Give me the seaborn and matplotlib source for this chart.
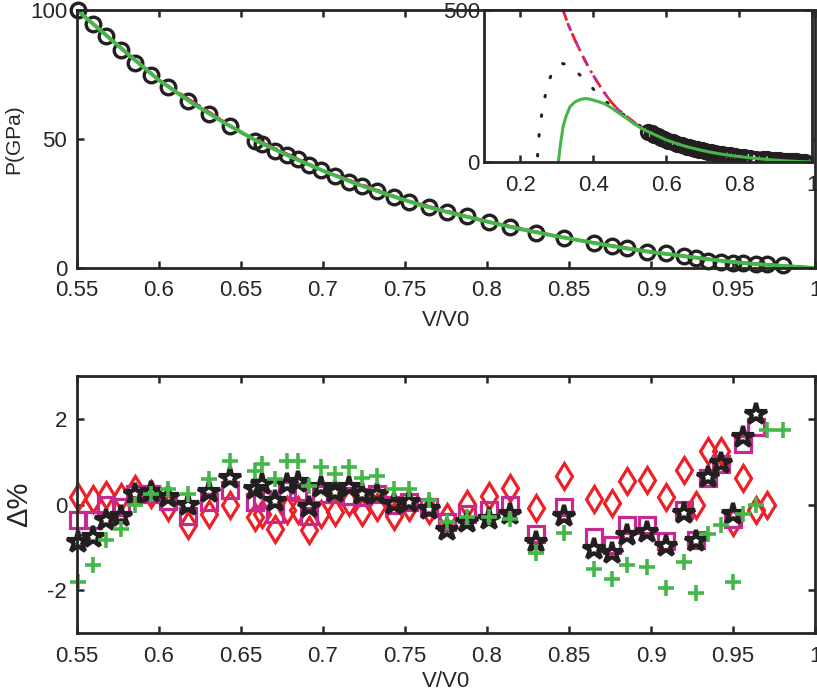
import numpy as np
import matplotlib
matplotlib.use('Agg')
import matplotlib.pyplot as plt
import seaborn as sns

# volume grid shared by the data points (V/V0)
v_data = [0.5508, 0.5596, 0.5677, 0.5769, 0.5854, 0.5952, 0.6054, 0.6180, 0.6302, 0.6434,
          0.6583, 0.6627, 0.6708, 0.6780, 0.6845, 0.6912, 0.6987, 0.7075, 0.7156, 0.7238,
          0.7329, 0.7431, 0.7523, 0.7645, 0.7757, 0.7879, 0.8010, 0.8143, 0.8296, 0.8469,
          0.8652, 0.8764, 0.8856, 0.8978, 0.9090, 0.9202, 0.9273, 0.9345, 0.9426, 0.9497,
          0.9558, 0.9639, 0.9710, 0.9802]
p_data = [100.0, 94.6, 89.9, 84.5, 79.6, 74.8, 70.0, 64.8, 59.7, 55.0,
          49.2, 47.9, 45.5, 43.8, 42.1, 39.9, 38.0, 35.7, 33.4, 31.8,
          30.0, 27.6, 25.7, 23.5, 21.8, 20.0, 17.9, 15.8, 13.7, 11.5,
          9.8, 8.5, 7.6, 6.3, 5.7, 4.7, 3.8, 2.8, 2.4, 2.1,
          1.8, 1.6, 1.5, 1.2]

# green fit
v_fit = [0.304, 0.31, 0.317, 0.325, 0.336, 0.35, 0.365, 0.378, 0.39, 0.41, 0.43, 0.45,
         0.47, 0.49, 0.51, 0.53, 0.55, 0.56, 0.58, 0.60, 0.62, 0.64, 0.66, 0.68, 0.70,
         0.72, 0.74, 0.76, 0.78, 0.80, 0.82, 0.84, 0.86, 0.88, 0.90, 0.92, 0.94, 0.96,
         0.98, 1.0]
p_fit = [0, 60, 116, 150, 182, 198, 206, 209, 207, 200, 192, 178,
         161, 145, 127, 112, 100, 94.5, 83.5, 72.8, 64.0, 56.2, 49.1, 43.2, 37.7,
         32.7, 28.3, 24.3, 21.0, 18.0, 15.1, 12.6, 10.3, 8.1, 6.2, 4.6, 3.0, 1.7,
         0.8, 0]

# red / magenta fits (nearly on top of each other)
v_eos = [0.317, 0.33, 0.35, 0.37, 0.39, 0.41, 0.43, 0.45, 0.47, 0.50, 0.527, 0.55,
         0.60, 0.65, 0.70, 0.75, 0.80, 0.85, 0.90, 0.95, 1.0]
p_red = [500, 455, 400, 350, 305, 265, 228, 196, 170, 142, 116, 100,
         72.8, 52.5, 37.7, 26.3, 18.0, 11.4, 6.2, 2.3, 0]
p_mag = [500, 455, 400, 350, 305, 265, 228, 196, 170, 142, 116, 100,
         72.8, 52.5, 37.7, 26.3, 18.0, 11.4, 6.2, 2.3, 0]

# black dotted curve in the inset
v_dot = [0.247, 0.25, 0.255, 0.262, 0.272, 0.285, 0.30, 0.315, 0.33, 0.35, 0.37, 0.39,
         0.41, 0.43, 0.45, 0.48, 0.51, 0.54, 0.56, 0.60]
p_dot = [20, 75, 130, 185, 240, 290, 315, 324, 320, 302, 278, 253,
         227, 204, 183, 158, 133, 110, 95, 73]

# relative deviations (%)
dev_diamond = [0.17, 0.13, 0.23, 0.17, 0.36, 0.25, -0.06, -0.49, -0.22, -0.02,
               -0.29, -0.22, -0.57, -0.13, -0.13, -0.60, -0.22, -0.18, 0.05, -0.18,
               -0.06, -0.26, -0.06, -0.13, -0.29, 0.02, 0.19, 0.39, -0.08, 0.67,
               0.13, 0.03, 0.56, 0.57, 0.17, 0.81, -0.01, 1.26, 1.26, -0.41,
               0.62, -0.12, -0.02, np.nan]
dev_square = [-0.37, -0.37, -0.02, -0.06, 0.25, 0.25, 0.09, -0.26, 0.05, 0.33,
              0.05, 0.12, -0.22, 0.33, 0.29, -0.26, 0.25, 0.25, 0.21, 0.17,
              0.25, -0.02, 0.05, -0.06, -0.41, -0.22, -0.14, -0.02, -0.68, -0.05,
              -0.76, -0.94, -0.47, -0.47, -0.85, -0.14, -0.84, 0.62, 0.95, -0.33,
              1.41, 1.80, np.nan, np.nan]
dev_star = [-0.88, -0.76, -0.37, -0.26, 0.25, 0.29, 0.17, -0.02, 0.29, 0.63,
            0.36, 0.48, 0.09, 0.48, 0.52, -0.06, 0.40, 0.29, 0.40, 0.25,
            0.25, 0.02, 0.05, -0.10, -0.59, -0.41, -0.33, -0.22, -0.88, -0.28,
            -1.03, -1.13, -0.72, -0.64, -0.98, -0.20, -0.85, 0.64, 0.96, -0.22,
            1.57, 2.12, np.nan, np.nan]
dev_plus = [-1.81, -1.42, -0.84, -0.57, -0.02, 0.25, 0.36, 0.25, 0.60, 1.02,
            0.79, 0.95, 0.60, 1.02, 1.02, 0.44, 0.87, 0.71, 0.87, 0.63,
            0.67, 0.36, 0.36, 0.10, -0.41, -0.29, -0.29, -0.33, -1.13, -0.66,
            -1.51, -1.75, -1.42, -1.47, -1.94, -1.34, -2.06, -0.68, -0.49, -1.81,
            -0.23, -0.02, 1.74, 1.74]

main_xticks = [0.55, 0.6, 0.65, 0.7, 0.75, 0.8, 0.85, 0.9, 0.95, 1.0]
main_xlabels = ['0.55', '0.6', '0.65', '0.7', '0.75', '0.8', '0.85', '0.9', '0.95', '1']
top_yticks = [0, 50, 100]
dev_yticks = [-2, 0, 2]
inset_xticks = [0.2, 0.4, 0.6, 0.8, 1.0]
inset_xlabels = ['0.2', '0.4', '0.6', '0.8', '1']
inset_yticks = [0, 500]

RED = '#ee2027'
MAG = '#c62a8e'
GREEN = '#45b649'
BLACK = '#231f20'
AXC = '#262626'

sns.set_style('ticks')
plt.rcParams['font.family'] = ['Liberation Sans', 'DejaVu Sans']
plt.rcParams['axes.unicode_minus'] = False
plt.rcParams['axes.edgecolor'] = AXC
plt.rcParams['axes.linewidth'] = 2.0
plt.rcParams['xtick.color'] = AXC
plt.rcParams['ytick.color'] = AXC
plt.rcParams['text.color'] = AXC


def style_axes(ax, size=16):
    ax.tick_params(direction='in', top=True, right=True, length=5, width=1.8,
                   labelsize=size)
    ax.tick_params(axis='x', pad=9)
    ax.tick_params(axis='y', pad=7)
    for s in ax.spines.values():
        s.set_visible(True)


def curve(ax, x, y, **kw):
    sns.lineplot(x=x, y=y, ax=ax, estimator=None, sort=False, **kw)


fig = plt.figure(figsize=(8.17, 6.95), dpi=100)

# ---- top panel: P(V)
ax1 = fig.add_axes([0.0942, 0.6144, 0.9034, 0.3712])
curve(ax1, v_data, p_data, marker='o', linestyle='none', mfc='none', mec=BLACK,
      mew=2.4, ms=10.5, clip_on=False)
curve(ax1, v_eos, p_red, color=RED, linestyle='-.', lw=2)
curve(ax1, v_eos, p_mag, color=MAG, linestyle='--', lw=2)
curve(ax1, v_fit, p_fit, color=GREEN, lw=2.8)
ax1.set_xlim(0.55, 1.0)
ax1.set_ylim(0, 100)
ax1.set_xticks(main_xticks)
ax1.set_xticklabels(main_xlabels)
ax1.set_yticks(top_yticks)
ax1.set_xlabel('V/V0', fontsize=16, labelpad=6)
ax1.set_ylabel('P(GPa)', fontsize=15, labelpad=5)
style_axes(ax1)

# ---- inset
ax_in = fig.add_axes([0.5924, 0.7669, 0.4015, 0.2187])
ax_in.set_facecolor('white')
curve(ax_in, v_dot, p_dot, color=BLACK, linestyle=(0, (0.5, 6)), lw=2.2,
      dash_capstyle='round')
curve(ax_in, v_eos, p_red, color=RED, linestyle=(0, (4, 2, 1, 2)), lw=2)
curve(ax_in, v_eos, p_mag, color=MAG, linestyle=(2, (3, 4)), lw=2)
curve(ax_in, v_data, p_data, marker='o', linestyle='none', mfc='none', mec=BLACK,
      mew=2.4, ms=10)
curve(ax_in, v_fit, p_fit, color=GREEN, lw=2.2)
ax_in.set_xlim(0.1, 1.0)
ax_in.set_ylim(0, 500)
ax_in.set_xticks(inset_xticks)
ax_in.set_xticklabels(inset_xlabels)
ax_in.set_yticks(inset_yticks)
ax_in.set_xlabel('')
ax_in.set_ylabel('')
style_axes(ax_in)
ax_in.tick_params(axis='y', pad=3)

# ---- bottom panel: deviations
ax2 = fig.add_axes([0.0942, 0.0892, 0.9034, 0.3698])
curve(ax2, v_data, dev_diamond, marker='d', linestyle='none', mfc='none', mec=RED,
      mew=2.3, ms=13, clip_on=False)
curve(ax2, v_data, dev_square, marker='s', linestyle='none', mfc='none', mec=MAG,
      mew=2.3, ms=11, clip_on=False)
curve(ax2, v_data, dev_star, marker='*', linestyle='none', mfc='none', mec=BLACK,
      mew=3.0, ms=16, clip_on=False)
curve(ax2, v_data, dev_plus, marker='+', linestyle='none', color=GREEN, mec=GREEN,
      mew=2.6, ms=12, clip_on=False)
ax2.set_xlim(0.55, 1.0)
ax2.set_ylim(-3, 3)
ax2.set_xticks(main_xticks)
ax2.set_xticklabels(main_xlabels)
ax2.set_yticks(dev_yticks)
ax2.set_xlabel('V/V0', fontsize=16, labelpad=3)
ax2.set_ylabel('Δ%', fontsize=21, labelpad=10)
style_axes(ax2)

fig.savefig('out.png', dpi=100)
